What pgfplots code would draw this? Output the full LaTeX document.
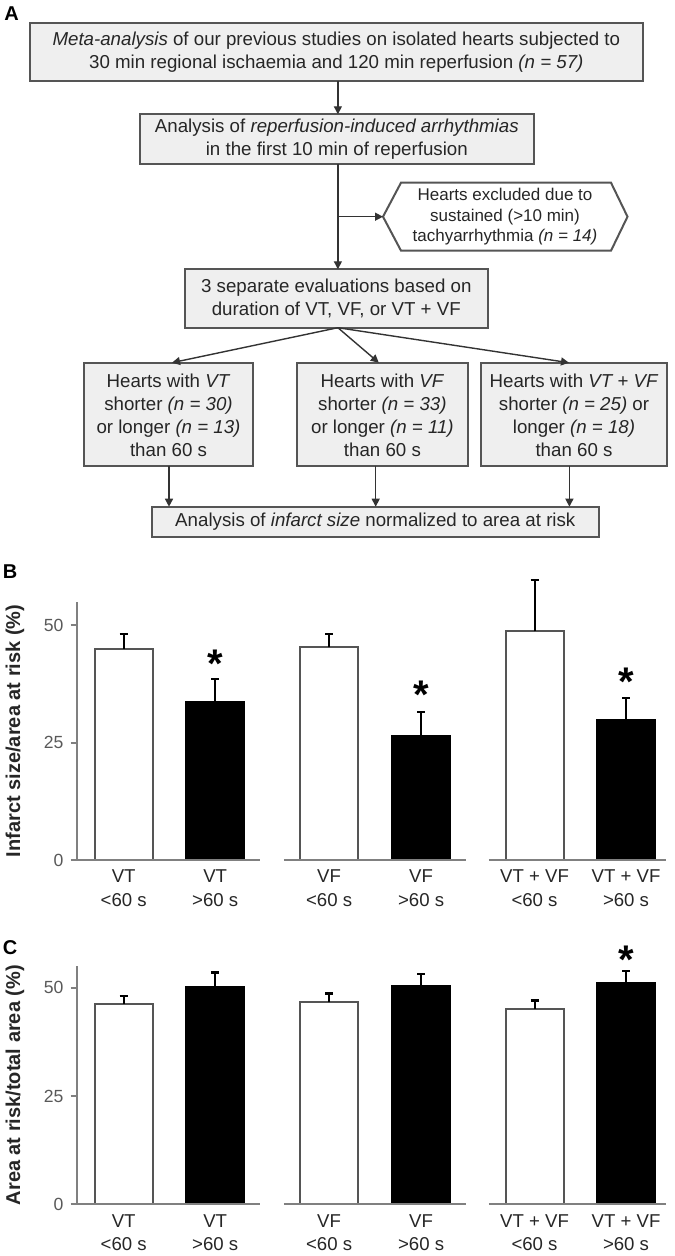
\documentclass[border=0pt]{standalone}
\usepackage{pgfplots}
\pgfplotsset{compat=1.18}
\usepackage{fontspec}
\setmainfont{Liberation Sans}
\usetikzlibrary{arrows.meta}

\definecolor{boxfill}{HTML}{EFEFEF}
\definecolor{boxline}{HTML}{555555}
\definecolor{axisgray}{HTML}{808080}
\definecolor{txt}{HTML}{262626}
\definecolor{ticktxt}{HTML}{595959}

% values (mean, SEM up)
\pgfplotstableread{
x     y     e
0     45.0  3.1
2.245 45.3  2.8
4.49  48.7  10.9
}\infShort
\pgfplotstableread{
x     y     e
1     33.6  4.9
3.25  26.5  5.0
5.49  29.9  4.6
}\infLong
\pgfplotstableread{
x     y     e
0     46.3  1.8
2.245 46.6  2.1
4.49  45.1  1.9
}\aarShort
\pgfplotstableread{
x     y     e
1     50.2  3.3
3.25  50.5  2.7
5.49  51.1  2.7
}\aarLong

\pgfplotsset{
  barpanel/.style={
    scale only axis, width=294.7pt,
    xmin=-0.515, xmax=5.927, ymin=0, ymax=55,
    clip=false,
    axis x line*=bottom, axis y line*=left,
    x axis line style={draw=none},
    y axis line style={draw=axisgray, line width=1pt},
    xtick={0,1,2.245,3.25,4.49,5.49},
    xticklabels={{VT\\<60 s},{VT\\>60 s},{VF\\<60 s},{VF\\>60 s},{VT + VF\\<60 s},{VT + VF\\>60 s}},
    x tick style={draw=none},
    xticklabel style={align=center, font=\fontsize{9.3}{11.7}\selectfont, text=txt, yshift=1.5pt},
    ytick={0,25,50},
    y tick style={draw=axisgray, line width=1pt},
    tick align=outside, major tick length=3pt,
    yticklabel style={font=\fontsize{8.8}{10}\selectfont, text=ticktxt},
    /pgf/number format/assume math mode=true,
    ybar, bar width=0.634, bar shift=0pt,
    every axis y label/.style={at={(axis description cs:-0.1045,0.5)}, rotate=90,
      anchor=center, font=\fontsize{10}{12}\selectfont\bfseries, text=txt},
  },
  whitebar/.style={fill=white, draw=boxline, line width=1pt,
    error bars/.cd, y dir=plus, y explicit, error mark=-,
    error bar style={line width=1pt, black},
    error mark options={rotate=90, line width=1.2pt, mark size=2pt, black}},
  blackbar/.style={fill=black, draw=black, line width=1pt,
    error bars/.cd, y dir=plus, y explicit, error mark=-,
    error bar style={line width=1pt, black},
    error mark options={rotate=90, line width=1.2pt, mark size=2pt, black}},
  stars/.style={draw=none, fill=none, nodes near coords={*},
    every node near coord/.style={anchor=base, yshift=-11pt,
      font=\fontsize{20}{20}\selectfont\bfseries, text=black}},
}

\begin{document}
\begin{tikzpicture}[x=0.5pt, y=0.5pt, >={Triangle[length=4pt,width=4pt]}]
\useasboundingbox (0,0) rectangle (674,-1256);
\coordinate (Borig) at (76.6,-860);
\coordinate (Corig) at (76.6,-1204.3);

\tikzset{
  box/.style={fill=boxfill, draw=boxline, line width=1pt},
  flow/.style={draw=boxline!60!black, line width=0.7pt},
  ftext/.style={align=center, text=txt, font=\fontsize{9.35}{11.5}\selectfont, inner sep=0pt},
}

% ---------------- panel A: flowchart ----------------
\node[font=\fontsize{10}{12}\selectfont\bfseries] at (11.7,-13.3) {A};

\draw[box] (30,-22.7) rectangle (642.6,-80.7);
\node[ftext] at (336.3,-51.7) {\textit{Meta-analysis} of our previous studies on isolated hearts subjected to\\30 min regional ischaemia and 120 min reperfusion \textit{(n = 57)}};

\draw[box] (139.9,-114.3) rectangle (533.7,-164);
\node[ftext] at (336.8,-139.1) {Analysis of \textit{reperfusion-induced arrhythmias}\\in the first 10 min of reperfusion};

\draw[fill=white, draw=boxline, line width=1pt] (383,-216.7) -- (401,-182.7) -- (611,-182.7)
  -- (627.5,-216.7) -- (611,-250.7) -- (401,-250.7) -- cycle;
\node[ftext, font=\fontsize{8.5}{10.4}\selectfont] at (505,-216.7) {Hearts excluded due to\\sustained (>10 min)\\tachyarrhythmia \textit{(n = 14)}};

\draw[box] (185,-269.3) rectangle (487.6,-327.7);
\node[ftext] at (336.3,-298.5) {3 separate evaluations based on\\duration of VT, VF, or VT + VF};

\draw[box] (84,-362.7) rectangle (253,-465.7);
\node[ftext] at (168.5,-415) {Hearts with \textit{VT}\\shorter \textit{(n = 30)}\\or longer \textit{(n = 13)}\\than 60 s};
\draw[box] (297,-362.7) rectangle (467.8,-465.7);
\node[ftext] at (382.4,-415) {Hearts with \textit{VF}\\shorter \textit{(n = 33)}\\or longer \textit{(n = 11)}\\than 60 s};
\draw[box] (481,-362.7) rectangle (667,-465.7);
\node[ftext] at (574,-415) {Hearts with \textit{VT + VF}\\shorter \textit{(n = 25)} or\\longer \textit{(n = 18)}\\than 60 s};

\draw[box] (151.5,-506.7) rectangle (599,-537.3);
\node[ftext] at (375.3,-522) {Analysis of \textit{infarct size} normalized to area at risk};

\draw[flow,->] (337.9,-80.7) -- (337.9,-114.3);
\draw[flow,->] (337.9,-164) -- (337.9,-269.3);
\draw[flow,->] (337.9,-216.7) -- (383,-216.7);
\draw[flow,->] (337.9,-327.7) -- (172,-362.7);
\draw[flow,->] (337.9,-327.7) -- (378.8,-362.7);
\draw[flow,->] (337.9,-327.7) -- (569,-362.7);
\draw[flow,->] (169,-465.7) -- (169,-506.7);
\draw[flow,->] (375.7,-465.7) -- (375.7,-506.7);
\draw[flow,->] (569.4,-465.7) -- (569.4,-506.7);

% ---------------- panel B ----------------
\node[font=\fontsize{10}{12}\selectfont\bfseries] at (10,-572) {B};
\begin{axis}[barpanel, at={(Borig)}, anchor=south west, height=129.15pt,
  ylabel={Infarct size/area at risk (\%)}]
\addplot[whitebar] table[x=x, y=y, y error=e] {\infShort};
\addplot[blackbar] table[x=x, y=y, y error=e] {\infLong};
\addplot[stars] coordinates {(1,43.6) (3.25,36.9) (5.49,39.7)};
\draw[axisgray, line width=1pt] (axis cs:-0.555,0) -- (axis cs:1.49,0);
\draw[axisgray, line width=1pt] (axis cs:1.75,0) -- (axis cs:3.74,0);
\draw[axisgray, line width=1pt] (axis cs:3.99,0) -- (axis cs:5.93,0);
\end{axis}

% ---------------- panel C ----------------
\node[font=\fontsize{10}{12}\selectfont\bfseries] at (10,-948) {C};
\begin{axis}[barpanel, at={(Corig)}, anchor=south west, height=119.15pt,
  ylabel={Area at risk/total area (\%)}]
\addplot[whitebar] table[x=x, y=y, y error=e] {\aarShort};
\addplot[blackbar] table[x=x, y=y, y error=e] {\aarLong};
\addplot[stars] coordinates {(5.49,58.3)};
\draw[axisgray, line width=1pt] (axis cs:-0.555,0) -- (axis cs:1.49,0);
\draw[axisgray, line width=1pt] (axis cs:1.75,0) -- (axis cs:3.74,0);
\draw[axisgray, line width=1pt] (axis cs:3.99,0) -- (axis cs:5.93,0);
\end{axis}
\end{tikzpicture}
\end{document}
